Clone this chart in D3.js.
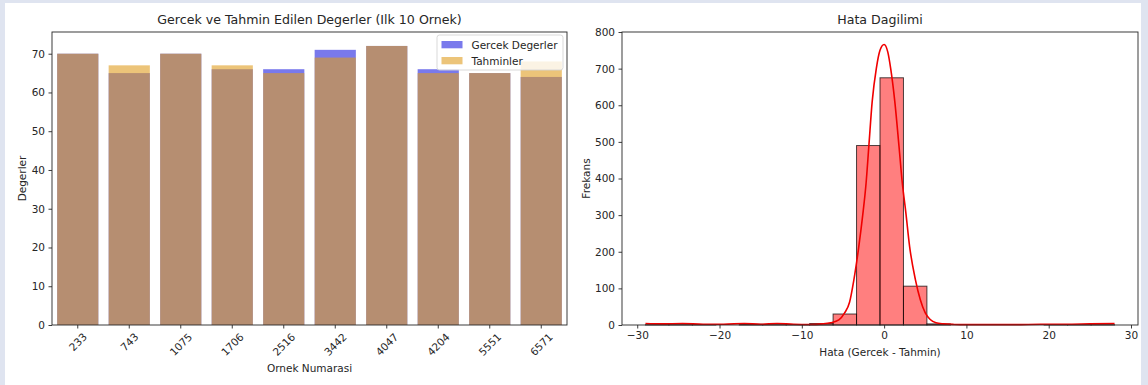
<!DOCTYPE html>
<html>
<head>
<meta charset="utf-8">
<script src="https://cdn.jsdelivr.net/npm/d3@7/dist/d3.min.js"></script>
<style>
  html, body { margin: 0; padding: 0; background: #dfe4f0; }
  svg { display: block; }
  text { font-family: "DejaVu Sans", sans-serif; fill: #262626; }
</style>
</head>
<body>
<svg id="chart" width="1148" height="385"></svg>
<script>
// Sample ids and the first ten actual / predicted values
const sampleIds = ["233", "743", "1075", "1706", "2516", "3442", "4047", "4204", "5551", "6571"];
const actualValues = [70, 65, 70, 66, 66, 71, 72, 66, 65, 64];
const predictedValues = [70, 67, 70, 67, 65, 69, 72, 65, 65, 68];
const barTicks = [0, 10, 20, 30, 40, 50, 60, 70];

// Error histogram: 20 equal bins between the min and max error
const errorMin = -29, errorMax = 28, binCount = 20;
const binCounts = [1, 1, 1, 0, 2, 1, 1, 4, 30, 490, 675, 106, 3, 0, 0, 0, 0, 1, 1, 1];
// Kernel density curve, scaled to counts
const kdeX = [-29, -27, -24.5, -22, -19.5, -17, -15, -13, -11, -9, -7.5, -6.5, -5.5, -4.8, -4.2, -3.7, -3.1, -2.6, -2.2, -1.85, -1.45, -0.95, -0.5, 0, 0.45, 0.8, 1.3, 1.8, 2.2, 2.65, 3.1, 3.8, 4.4, 5.0, 5.6, 6.3, 7.2, 8.5, 10, 13, 16, 19, 22, 25, 28];
const kdeY = [4, 3, 4, 2, 2, 4, 2, 4, 2, 1.5, 3, 6, 14, 33, 62, 120, 210, 300, 385, 490, 610, 700, 750, 766, 745, 700, 610, 490, 390, 305, 214, 124, 69, 33, 15, 6, 3, 1.5, 1, 1, 1, 2, 2, 3, 4];
const histXTicks = [-30, -20, -10, 0, 10, 20, 30];
const histYTicks = [0, 100, 200, 300, 400, 500, 600, 700, 800];

const svg = d3.select("#chart");
svg.append("rect").attr("x", 5).attr("y", 3).attr("width", 1136).attr("height", 382).attr("fill", "#ffffff");

const tickFont = 10.5, titleFont = 12.6;

function frame(g, w, h) {
  g.append("rect").attr("width", w).attr("height", h)
    .attr("fill", "none").attr("stroke", "#262626").attr("stroke-width", 0.9);
}
function styleAxis(a) {
  a.select(".domain").remove();
  a.selectAll(".tick line").attr("stroke", "#262626").attr("stroke-width", 0.9);
  a.selectAll(".tick text").attr("font-size", tickFont).attr("fill", "#262626")
    .attr("font-family", "DejaVu Sans, sans-serif");
}

// ---------- Left: actual vs predicted bars ----------
const L = { x: 52, y: 32, w: 515, h: 293 };
const gL = svg.append("g").attr("transform", `translate(${L.x},${L.y})`);
const xb = d3.scaleBand().domain(sampleIds).range([0, L.w]).paddingInner(0.2).paddingOuter(0.1);
const yb = d3.scaleLinear().domain([0, 75.6]).range([L.h, 0]);

gL.selectAll("rect.act").data(actualValues).join("rect").attr("class", "act")
  .attr("x", (d, i) => xb(sampleIds[i])).attr("width", xb.bandwidth())
  .attr("y", d => yb(d)).attr("height", d => yb(0) - yb(d))
  .attr("fill", "#2020df").attr("fill-opacity", 0.6);
gL.selectAll("rect.pred").data(predictedValues).join("rect").attr("class", "pred")
  .attr("x", (d, i) => xb(sampleIds[i])).attr("width", xb.bandwidth())
  .attr("y", d => yb(d)).attr("height", d => yb(0) - yb(d))
  .attr("fill", "#df9c20").attr("fill-opacity", 0.6);

const axLy = gL.append("g").call(d3.axisLeft(yb).tickValues(barTicks).tickSize(3.5).tickPadding(3.5));
styleAxis(axLy);
const axLx = gL.append("g").attr("transform", `translate(0,${L.h})`)
  .call(d3.axisBottom(xb).tickSize(3.5).tickPadding(3.5));
styleAxis(axLx);
// rotate labels 45 degrees, centred under each tick
axLx.selectAll(".tick text").each(function () {
  const t = d3.select(this);
  const len = this.getComputedTextLength();
  const hgt = tickFont * 0.76;
  const half = (len + hgt) * Math.SQRT1_2 / 2;
  t.attr("y", null).attr("dy", null).attr("text-anchor", "middle")
    .attr("dominant-baseline", "central")
    .attr("transform", `translate(0,${7 + half}) rotate(-45)`);
});
frame(gL, L.w, L.h);

gL.append("text").attr("x", L.w / 2).attr("y", -8).attr("text-anchor", "middle")
  .attr("font-size", titleFont).text("Gercek ve Tahmin Edilen Degerler (Ilk 10 Ornek)");
gL.append("text").attr("x", L.w / 2).attr("y", 340).attr("text-anchor", "middle")
  .attr("font-size", tickFont).text("Ornek Numarasi");
gL.append("text").attr("transform", `translate(-26,${L.h / 2}) rotate(-90)`)
  .attr("text-anchor", "middle").attr("font-size", tickFont).text("Degerler");

// legend
const leg = gL.append("g").attr("transform", `translate(${437 - L.x},${35 - L.y})`);
leg.append("rect").attr("width", 126).attr("height", 35).attr("rx", 2.5)
  .attr("fill", "#ffffff").attr("fill-opacity", 0.8).attr("stroke", "#d5d5d5").attr("stroke-width", 0.9);
const legItems = [{ label: "Gercek Degerler", color: "#2020df" }, { label: "Tahminler", color: "#df9c20" }];
legItems.forEach((it, i) => {
  const yy = 9.5 + i * 16;
  leg.append("rect").attr("x", 4.5).attr("y", yy - 3.5).attr("width", 21).attr("height", 7.3)
    .attr("fill", it.color).attr("fill-opacity", 0.6);
  leg.append("text").attr("x", 34.5).attr("y", yy).attr("dominant-baseline", "central")
    .attr("font-size", tickFont).text(it.label);
});

// ---------- Right: error distribution ----------
const R = { x: 622, y: 32, w: 516, h: 293 };
const gR = svg.append("g").attr("transform", `translate(${R.x},${R.y})`);
const span = errorMax - errorMin;
const xh = d3.scaleLinear().domain([errorMin - 0.05 * span, errorMax + 0.05 * span]).range([0, R.w]);
const yh = d3.scaleLinear().domain([0, 800]).range([R.h, 0]);
const binW = span / binCount;
const bins = binCounts.map((c, i) => ({ x0: errorMin + i * binW, x1: errorMin + (i + 1) * binW, c }));

gR.selectAll("rect.bin").data(bins.filter(b => b.c > 0)).join("rect").attr("class", "bin")
  .attr("x", d => xh(d.x0)).attr("width", d => xh(d.x1) - xh(d.x0))
  .attr("y", d => yh(d.c)).attr("height", d => yh(0) - yh(d.c))
  .attr("fill", "#ff0000").attr("fill-opacity", 0.5)
  .attr("stroke", "#000000").attr("stroke-opacity", 0.7).attr("stroke-width", 1);

const kdePts = kdeX.map((x, i) => [x, kdeY[i]]);
gR.append("path").datum(kdePts)
  .attr("d", d3.line().x(d => xh(d[0])).y(d => yh(d[1])).curve(d3.curveMonotoneX))
  .attr("fill", "none").attr("stroke", "#f00000").attr("stroke-width", 1.6);

const axRy = gR.append("g").call(d3.axisLeft(yh).tickValues(histYTicks).tickSize(3.5).tickPadding(3.5));
styleAxis(axRy);
const axRx = gR.append("g").attr("transform", `translate(0,${R.h})`)
  .call(d3.axisBottom(xh).tickValues(histXTicks).tickFormat(d => d < 0 ? "\u2212" + Math.abs(d) : d).tickSize(3.5).tickPadding(3.5));
styleAxis(axRx);
frame(gR, R.w, R.h);

gR.append("text").attr("x", R.w / 2).attr("y", -8).attr("text-anchor", "middle")
  .attr("font-size", titleFont).text("Hata Dagilimi");
gR.append("text").attr("x", R.w / 2).attr("y", 328 - R.y + 0).attr("dy", 0)
  .attr("transform", `translate(0,${28})`).attr("text-anchor", "middle")
  .attr("font-size", tickFont).text("Hata (Gercek - Tahmin)");
gR.append("text").attr("transform", `translate(-32,${R.h / 2}) rotate(-90)`)
  .attr("text-anchor", "middle").attr("font-size", tickFont).text("Frekans");
</script>
</body>
</html>
